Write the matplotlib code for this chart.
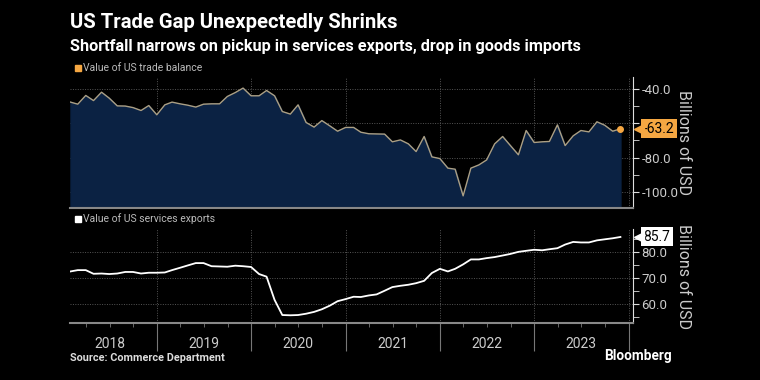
import pandas as pd
import matplotlib.pyplot as plt
import matplotlib.dates as mdates
from matplotlib.ticker import MultipleLocator, FixedLocator
from matplotlib.patches import Rectangle
from matplotlib.transforms import offset_copy

plt.rcParams['font.family'] = ['Roboto', 'DejaVu Sans']

# Monthly data, Jan 2018 - Nov 2023 (billions of USD)
dates = pd.date_range('2018-01-31', periods=71, freq='ME')

trade_balance = [
    -47.6, -48.8, -43.7, -46.7, -41.8, -45.3, -49.8, -49.9, -50.8, -52.5, -49.6, -55.0,
    -49.2, -47.6, -48.6, -49.4, -50.5, -48.8, -48.6, -48.6, -44.3, -42.0, -39.4, -43.9,
    -43.9, -40.8, -43.9, -53.1, -54.6, -49.2, -59.5, -62.2, -58.4, -61.5, -64.6, -62.4,
    -62.4, -65.2, -66.1, -66.2, -66.3, -70.8, -69.7, -72.0, -76.5, -67.7, -79.6, -80.6,
    -86.2, -86.8, -102.4, -86.2, -84.3, -81.4, -72.0, -67.7, -73.0, -78.4, -64.2, -71.2,
    -70.8, -70.6, -60.9, -73.0, -67.3, -64.2, -65.0, -59.1, -61.1, -64.6, -63.2,
]

services_exports = [
    72.5, 73.0, 73.0, 71.6, 71.7, 71.5, 71.7, 72.3, 72.3, 71.7, 72.0, 72.0,
    72.1, 73.0, 73.9, 74.8, 75.7, 75.7, 74.5, 74.4, 74.3, 74.7, 74.5, 74.2,
    71.5, 70.5, 61.6, 55.8, 55.7, 55.8, 56.3, 57.0, 58.0, 59.4, 61.1, 61.9,
    62.8, 62.7, 63.3, 63.7, 65.1, 66.5, 67.0, 67.4, 68.0, 68.9, 71.9, 73.5,
    72.5, 73.5, 75.2, 77.1, 77.1, 77.6, 78.0, 78.6, 79.2, 80.0, 80.4, 80.8,
    80.6, 81.0, 81.4, 82.8, 83.8, 83.6, 83.6, 84.4, 84.8, 85.2, 85.7,
]

years = [2018, 2019, 2020, 2021, 2022, 2023]

bg = 'black'
grid_c = '#555555'
text_c = '#cccccc'
orange = '#f5a742'
x0, x1 = pd.Timestamp('2018-01-29'), pd.Timestamp('2024-01-18')

fig = plt.figure(figsize=(7.6, 3.8), dpi=100, facecolor=bg)
ax1 = fig.add_axes([0.0921, 0.4526, 0.7409, 0.3444], facecolor=bg)
ax2 = fig.add_axes([0.0921, 0.149, 0.7409, 0.248], facecolor=bg)

year_starts = [pd.Timestamp(f'{y}-01-01') for y in years[1:]] + [pd.Timestamp('2024-01-01')]

for ax in (ax1, ax2):
    ax.set_xlim(x0, x1)
    for s in ('left', 'top'):
        ax.spines[s].set_visible(False)
    ax.spines['right'].set_color('#dddddd')
    ax.spines['bottom'].set_color('#888888')
    ax.spines['bottom'].set_linewidth(1.5)
    ax.yaxis.tick_right()
    ax.yaxis.set_label_position('right')
    ax.tick_params(axis='y', which='both', colors='#dddddd', labelcolor=text_c,
                   labelsize=9.5, length=4, pad=2)
    ax.xaxis.set_major_locator(FixedLocator(mdates.date2num(year_starts)))
    ax.xaxis.set_minor_locator(mdates.MonthLocator(bymonth=[4, 7, 10]))
    ax.grid(True, which='major', color=grid_c, linestyle=(0, (1, 1.5)), linewidth=0.7)
    ax.set_axisbelow(True)
    ax.set_ylabel('Billions of USD', rotation=270, color=text_c, fontsize=11.5, va='center')
    ax.yaxis.set_label_coords(1.089, 0.5)


def value_tag(ax, value, color):
    # small tag with a left-pointing notch, just right of the axis
    ax.annotate(f'{value:.1f}', xy=(1.0, value), xycoords=('axes fraction', 'data'),
                xytext=(7.5, 0), textcoords='offset points', va='center', ha='left',
                fontsize=10, color='black', zorder=5, annotation_clip=False,
                bbox=dict(boxstyle='square,pad=0.18', fc=color, ec='none'))
    tr = offset_copy(ax.get_yaxis_transform(), fig=fig, x=4.3, y=0, units='points')
    ax.plot([1.0], [value], marker='<', markersize=7, color=color, clip_on=False,
            transform=tr, zorder=5, linestyle='none')


# Top panel: trade balance
ymin1 = -109.5
ax1.set_ylim(ymin1, -33)
ax1.fill_between(dates, trade_balance, ymin1, color='#0b2243', zorder=1)
ax1.plot(dates, trade_balance, color='#ab9f84', linewidth=1, zorder=2)
ax1.plot(dates[-1], trade_balance[-1], 'o', color=orange, markersize=4, zorder=3)
ax1.yaxis.set_major_locator(MultipleLocator(20))
ax1.yaxis.set_minor_locator(MultipleLocator(10))
ax1.yaxis.set_major_formatter(lambda v, p: f'{v:.1f}')
ax1.tick_params(axis='x', which='both', length=0, labelbottom=False)

# Bottom panel: services exports
ax2.set_ylim(52.6, 88.7)
ax2.plot(dates, services_exports, color='white', linewidth=1.3)
ax2.yaxis.set_major_locator(MultipleLocator(10))
ax2.yaxis.set_minor_locator(MultipleLocator(5))
ax2.yaxis.set_major_formatter(lambda v, p: f'{v:.1f}')
ax2.tick_params(axis='x', which='major', length=20, color='#777777', labelbottom=False)
ax2.tick_params(axis='x', which='minor', length=3, color='#777777')
for y in years:
    ax2.text(pd.Timestamp(f'{y}-07-01'), -0.22, str(y), transform=ax2.get_xaxis_transform(),
             ha='center', va='center', color=text_c, fontsize=10)

value_tag(ax1, trade_balance[-1], orange)
value_tag(ax2, services_exports[-1], 'white')

# Header and footer
fig.text(0.092, 0.94, 'US Trade Gap Unexpectedly Shrinks', color='white',
         fontsize=14.6, fontweight='bold', va='center')
fig.text(0.092, 0.877, 'Shortfall narrows on pickup in services exports, drop in goods imports',
         color='white', fontsize=11.7, fontweight='bold', va='center')

# legend keys as small squares
for ypx, col, label in [(68, orange, 'Value of US trade balance'),
                        (219, 'white', 'Value of US services exports')]:
    yf = 1 - ypx / 380
    fig.patches.append(Rectangle((75 / 760, yf - 3 / 380), 6 / 760, 6 / 380,
                                 transform=fig.transFigure, color=col))
    fig.text(83 / 760, yf, label, color='#bbbbbb', fontsize=7.5, va='center')

fig.text(0.092, 0.058, 'Source: Commerce Department', color='#dddddd',
         fontsize=7.8, fontweight='bold', va='center')
fig.text(0.884, 0.062, 'Bloomberg', color='white', fontsize=9.8, fontweight='bold',
         va='center', ha='right')

fig.savefig('out.png', dpi=100, facecolor=bg)
